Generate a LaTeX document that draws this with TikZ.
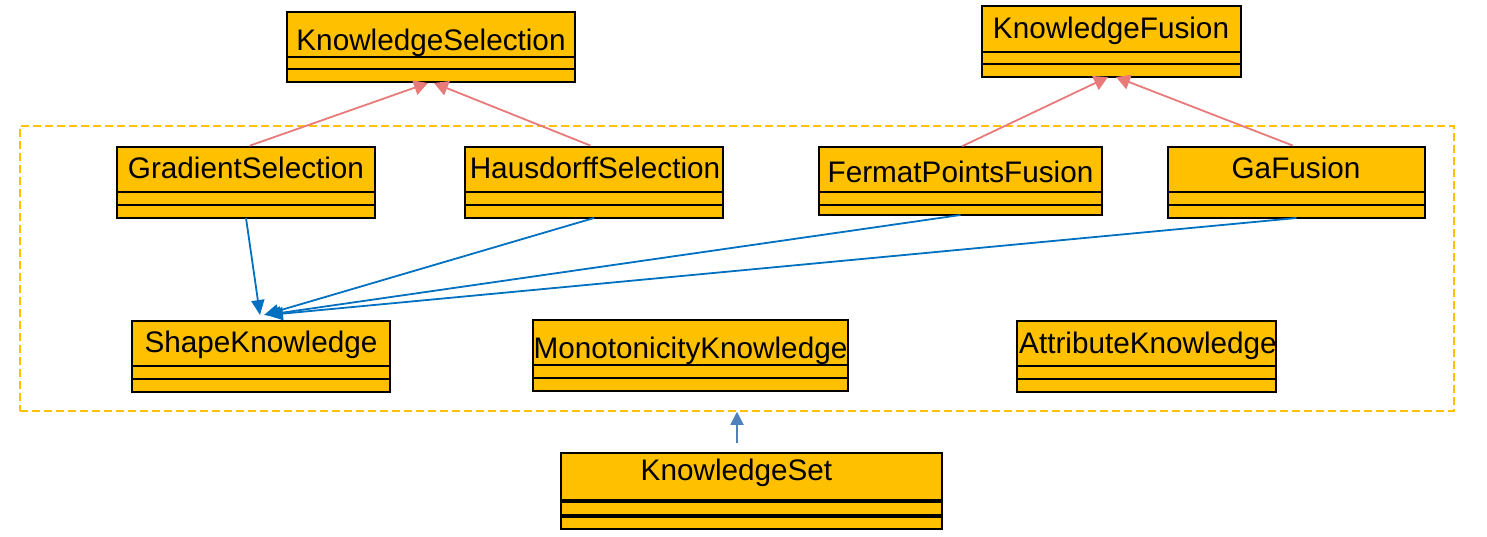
\documentclass[tikz,border=0pt]{standalone}
\usepackage{fontspec}
\setmainfont{Liberation Sans}
\usetikzlibrary{arrows.meta,calc}
\definecolor{boxfill}{RGB}{255,192,0}
\definecolor{grpline}{RGB}{255,192,0}
\definecolor{redarr}{RGB}{232,122,122}
\definecolor{bluearr}{RGB}{0,112,192}
\definecolor{lightblue}{RGB}{79,129,189}
\newcommand\umlbox[8]{%
  \pgfmathsetmacro\ubw{#4-#2}\pgfmathsetmacro\ubh{#5-#3}%
  \node[classbox, minimum width=\ubw pt, minimum height=\ubh pt] (#1) at ({(#2+#4)/2},{(#3+#5)/2}) {};
  \draw[#8] (#2,#6) -- (#4,#6);
  \draw[#8] (#2,#7) -- (#4,#7);
}
\begin{document}
\begin{tikzpicture}[x=1pt,y=-1pt,
  classbox/.style={draw=black, fill=boxfill, line width=2pt, inner sep=0pt, outer sep=0pt},
  sepline/.style={draw=black, line width=2pt},
  thicksep/.style={draw=black, line width=3.2pt},
  lbl/.style={anchor=base, inner sep=0pt, font=\fontsize{29.7}{34}\selectfont, text=black},
  gen/.style={draw=redarr, line width=1.8pt, -{Triangle[length=14pt,width=15pt]}},
  assoc/.style={draw=bluearr, line width=1.8pt, -{Triangle[length=15pt,width=13pt]}},
  setarr/.style={draw=lightblue, line width=1.8pt, -{Triangle[length=13pt,width=13pt]}},
  grpbox/.style={draw=grpline, line width=1.5pt, dash pattern=on 8pt off 4pt, inner sep=0pt}]
\useasboundingbox (0,0) rectangle (1487,536);

% group container
\node[grpbox, minimum width=1434pt, minimum height=285pt] (grp) at (737,268.5) {};

% class boxes
\umlbox{ksel}{287}{12}{575}{82}{57}{69}{sepline}
\umlbox{kfus}{982}{6}{1241}{77}{52}{64}{sepline}
\umlbox{gs}{117}{147}{375}{218}{192}{205}{sepline}
\umlbox{hs}{465}{147}{723}{218}{192}{205}{sepline}
\umlbox{fpf}{819}{147}{1102}{215}{192}{205}{sepline}
\umlbox{gaf}{1168}{147}{1425}{218}{192}{205}{sepline}
\umlbox{sk}{132}{321}{390}{392}{366}{379}{sepline}
\umlbox{mk}{533}{320}{848}{391}{365}{378}{sepline}
\umlbox{ak}{1017}{321}{1276}{392}{366}{379}{sepline}
\umlbox{kset}{561}{453}{942}{529}{501}{516}{thicksep}

% labels
\node[lbl] (ksel-t) at (431,50) {KnowledgeSelection};
\node[lbl] (kfus-t) at (1111,38) {KnowledgeFusion};
\node[lbl] (gs-t) at (246,178) {GradientSelection};
\node[lbl] (hs-t) at (595,178) {HausdorffSelection};
\node[lbl] (fpf-t) at (960.5,182) {FermatPointsFusion};
\node[lbl] (gaf-t) at (1296,178) {GaFusion};
\node[lbl] (sk-t) at (261,352) {ShapeKnowledge};
\node[lbl] (mk-t) at (690.5,358) {MonotonicityKnowledge};
\node[lbl] (ak-t) at (1148,353) {AttributeKnowledge};
\node[lbl] (kset-t) at (736.5,480) {KnowledgeSet};

% generalisation arrows
\draw[gen, shorten <=4pt] (gs.north) -- ($(ksel.south)+(-3,1)$);
\draw[gen, shorten <=4pt] (hs.north) -- ($(ksel.south)+(3,1)$);
\draw[gen, shorten <=2pt] (fpf.north) -- ($(kfus.south)+(-3.5,0)$);
\draw[gen, shorten <=4pt] (gaf.north) -- ($(kfus.south)+(4.5,0)$);

% association arrows
\draw[assoc] (gs.south) -- ($(sk.north)+(-1,-6)$);
\draw[assoc] (hs.south) -- ($(sk.north)+(3,-6)$);
\draw[assoc] (fpf.south) -- ($(sk.north)+(5,-6)$);
\draw[assoc] (gaf.south) -- ($(sk.north)+(7,-6)$);

% KnowledgeSet to group
\coordinate (kset-arr) at (737,443);
\draw[setarr] (kset-arr) -- (grp.south);
\end{tikzpicture}
\end{document}
